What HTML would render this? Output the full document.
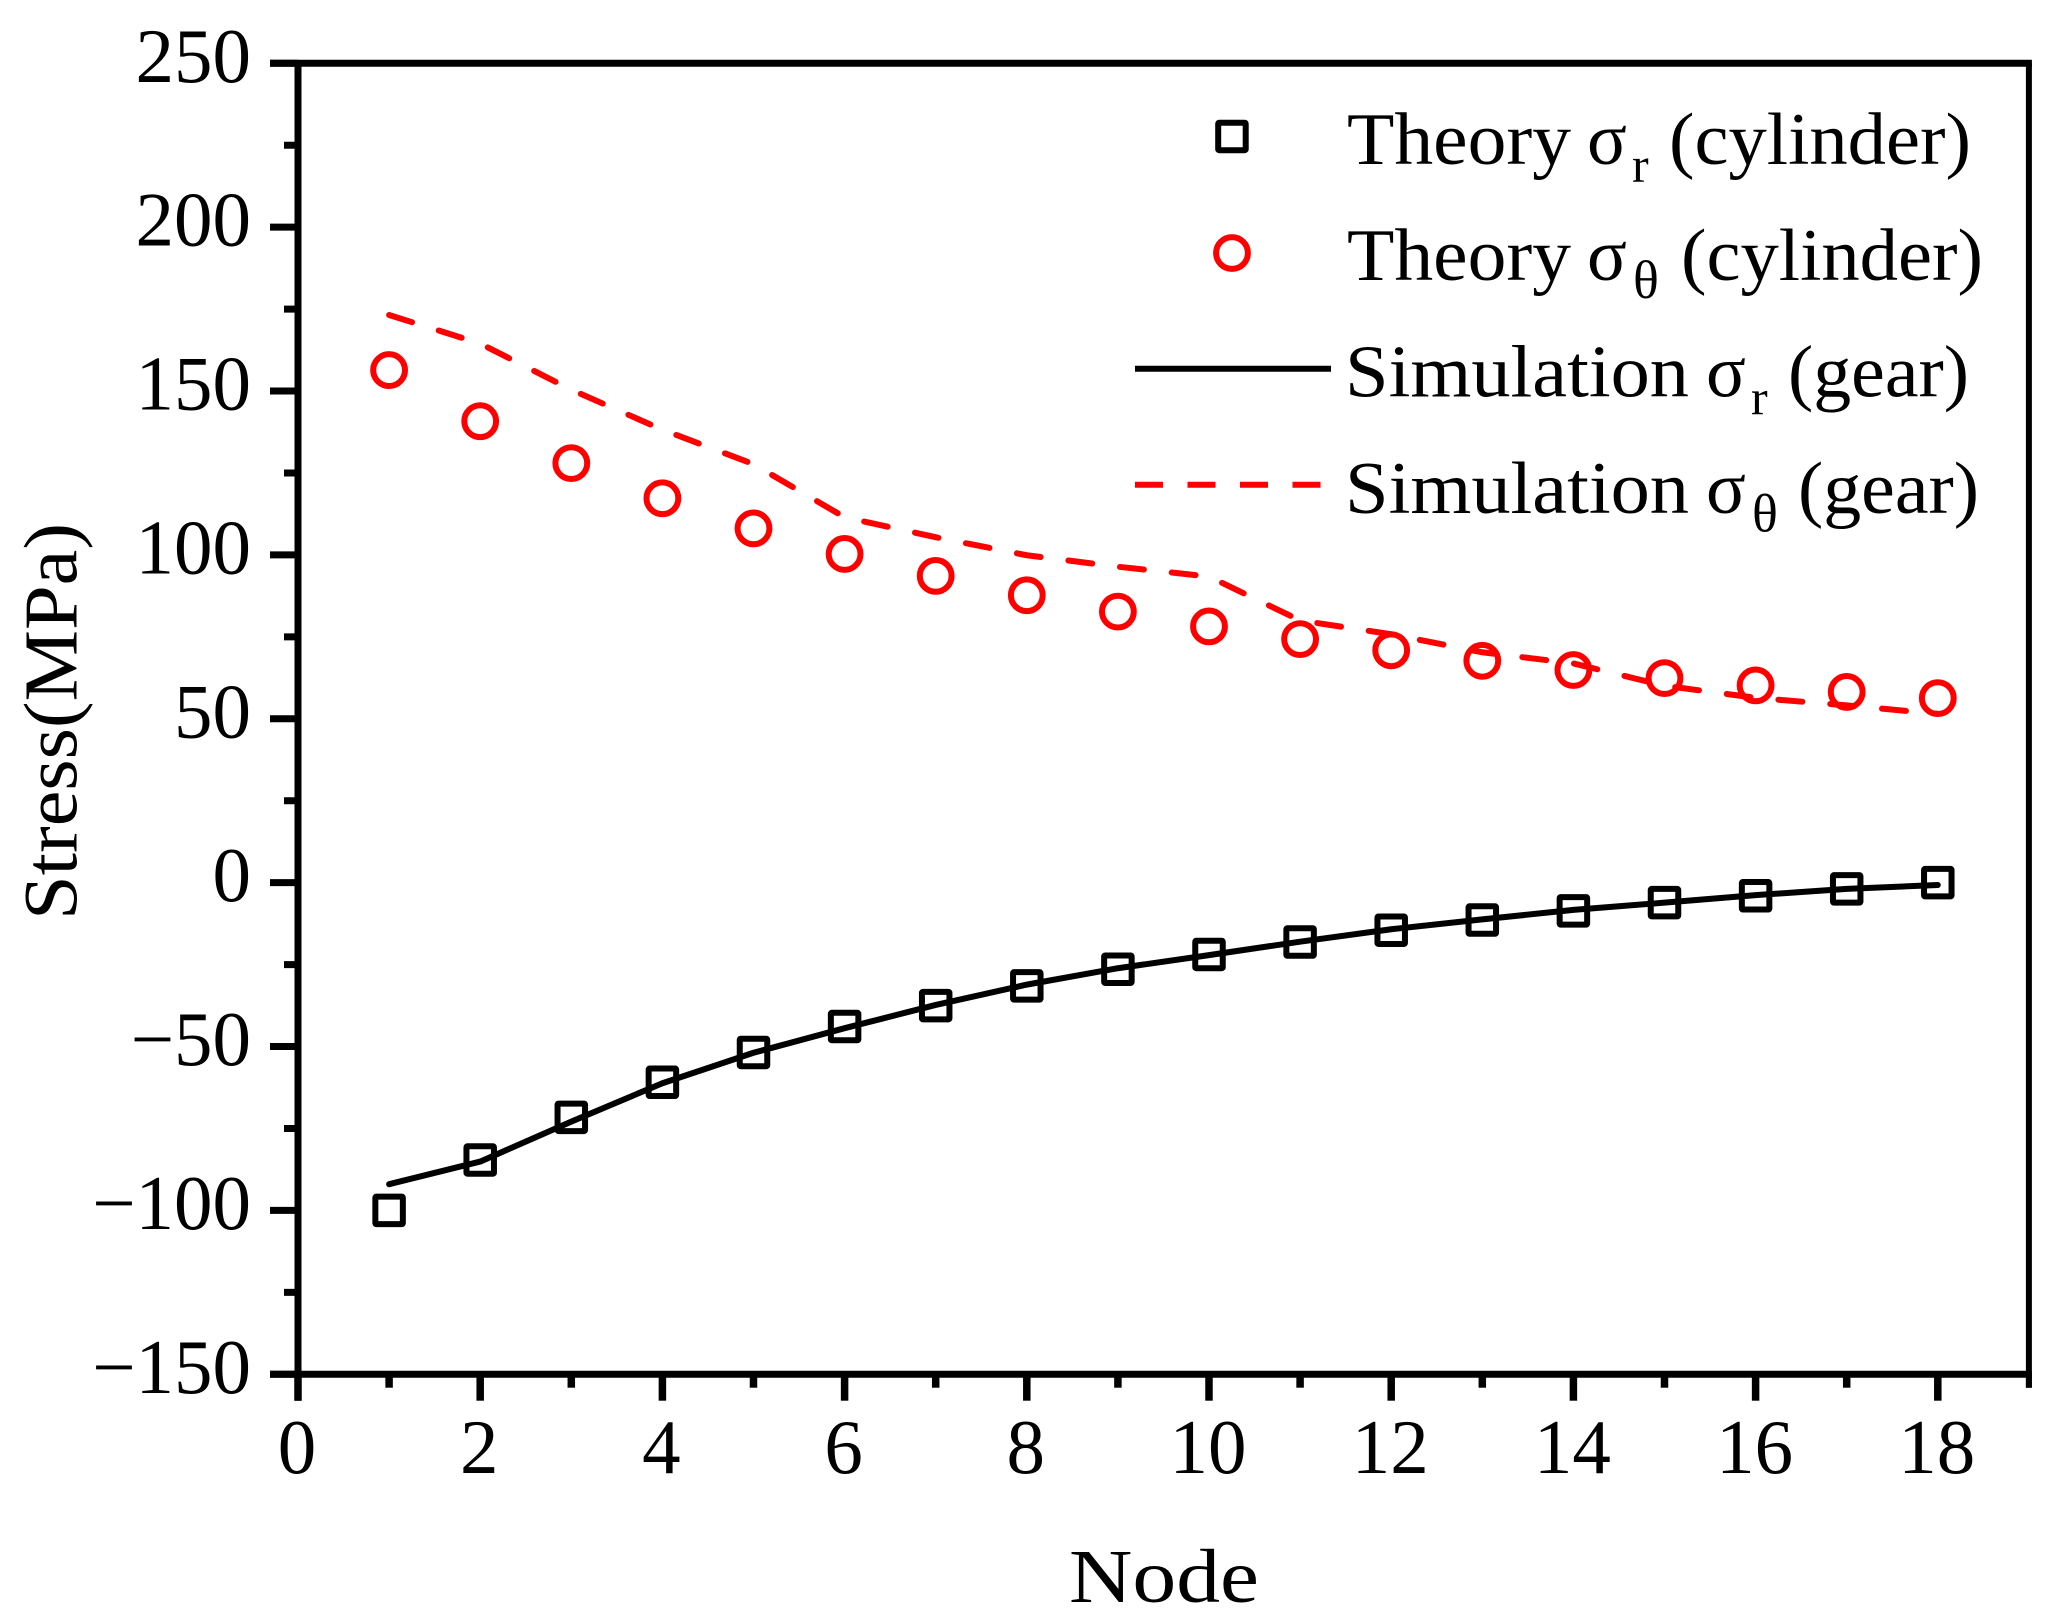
<!DOCTYPE html>
<html lang="en">
<head>
<meta charset="utf-8">
<title>Stress vs Node</title>
<style>
html,body{margin:0;padding:0;background:#fff;}
svg{display:block;}
text{font-family:"Liberation Serif","DejaVu Serif",serif;fill:#000;}
</style>
</head>
<body>
<svg id="chart" xmlns="http://www.w3.org/2000/svg" width="2057" height="1615" viewBox="0 0 2057 1615">
  <rect x="0" y="0" width="2057" height="1615" fill="#fff"/>
  <g id="axes"></g>
  <g id="series"></g>

  <text transform="translate(76.5,920) rotate(-90)" font-size="76" textLength="397" lengthAdjust="spacingAndGlyphs">Stress(MPa)</text>
  <text x="1069" y="1602" font-size="76" textLength="190" lengthAdjust="spacingAndGlyphs">Node</text>

  <g>
    <g>
      <rect x="1218.2" y="122.7" width="27.5" height="27.5" rx="1" fill="none" stroke="#000" stroke-width="6"/>
      <text y="164" font-size="74">
        <tspan x="1347" textLength="224" lengthAdjust="spacingAndGlyphs">Theory</tspan>
        <tspan x="1587">σ</tspan>
        <tspan x="1632" y="182" font-size="50">r</tspan>
        <tspan x="1669" y="164" textLength="302" lengthAdjust="spacingAndGlyphs">(cylinder)</tspan>
      </text>
    </g>
    <g>
      <circle cx="1232" cy="253" r="15.9" fill="none" stroke="#f00" stroke-width="6"/>
      <text y="280" font-size="74">
        <tspan x="1347" textLength="224" lengthAdjust="spacingAndGlyphs">Theory</tspan>
        <tspan x="1587">σ</tspan>
        <tspan x="1633" y="298" font-size="54">θ</tspan>
        <tspan x="1681" y="280" textLength="302" lengthAdjust="spacingAndGlyphs">(cylinder)</tspan>
      </text>
    </g>
    <g>
      <line x1="1135" y1="368.7" x2="1331" y2="368.7" stroke="#000" stroke-width="6"/>
      <text y="396.5" font-size="74">
        <tspan x="1345" textLength="344" lengthAdjust="spacingAndGlyphs">Simulation</tspan>
        <tspan x="1706">σ</tspan>
        <tspan x="1751" y="414.5" font-size="50">r</tspan>
        <tspan x="1788" y="396.5" textLength="181" lengthAdjust="spacingAndGlyphs">(gear)</tspan>
      </text>
    </g>
    <g>
      <line x1="1135" y1="484.7" x2="1321" y2="484.7" stroke="#f00" stroke-width="6" stroke-dasharray="28 24.5"/>
      <text y="513" font-size="74">
        <tspan x="1345" textLength="344" lengthAdjust="spacingAndGlyphs">Simulation</tspan>
        <tspan x="1706">σ</tspan>
        <tspan x="1752" y="531.5" font-size="54">θ</tspan>
        <tspan x="1798" y="513" textLength="181" lengthAdjust="spacingAndGlyphs">(gear)</tspan>
      </text>
    </g>
  </g>
</svg>
<script>
const nodes = [1,2,3,4,5,6,7,8,9,10,11,12,13,14,15,16,17,18];
const theorySigmaR = [-100,-84.6,-71.6,-60.9,-51.8,-43.9,-37.5,-31.5,-26.4,-21.9,-18.1,-14.5,-11.4,-8.6,-6.1,-4,-1.9,0];
const theorySigmaTheta = [156.4,140.8,128,117.3,108.1,100.3,93.6,87.7,82.7,78.2,74.3,70.9,67.7,64.9,62.4,60.2,58.2,56.3];
const simSigmaR = [-92,-85.1,-72.9,-61.2,-51.9,-44.4,-37.3,-31.1,-26.1,-22.1,-18,-14.2,-11.2,-8.3,-6.1,-3.8,-1.9,-0.7];
const simSigmaTheta = [173.2,164.5,150.4,138.2,127.7,111.5,105.4,99.9,96.4,93.4,80,75.8,70.3,66.9,60.1,56.4,54.1,51.5];
const xMajorTicks = [0,2,4,6,8,10,12,14,16,18];
const xMinorTicks = [1,3,5,7,9,11,13,15,17,19];
const yMajorTicks = [250,200,150,100,50,0,-50,-100,-150];
const yMinorTicks = [225,175,125,75,25,-25,-75,-125];

const NS = 'http://www.w3.org/2000/svg';
const xScale = function (n) { return 298 + 91.1 * n; };
const yScale = function (v) { return 63.3 + (250 - v) * 3.2775; };
const axes = document.getElementById('axes');
const seriesGroup = document.getElementById('series');
const INK = '#000';

function segment(parent, x1, y1, x2, y2, width) {
  const el = document.createElementNS(NS, 'line');
  el.setAttribute('x1', x1);
  el.setAttribute('y1', y1);
  el.setAttribute('x2', x2);
  el.setAttribute('y2', y2);
  el.setAttribute('stroke', INK);
  el.setAttribute('stroke-width', width);
  parent.appendChild(el);
  return el;
}

function label(parent, x, y, anchor, str) {
  const el = document.createElementNS(NS, 'text');
  el.setAttribute('x', x);
  el.setAttribute('y', y);
  el.setAttribute('text-anchor', anchor);
  el.setAttribute('font-size', '77');
  el.textContent = str;
  parent.appendChild(el);
  return el;
}

const yBase = yScale(-150);
const yTop = yScale(250);
const xLeft = xScale(0);
const xRight = xScale(19);

let frame = segment(axes, xLeft, yTop, xLeft, 1400.7, 7);


frame = segment(axes, xRight, yTop, xRight, 1387.7, 6);


frame = segment(axes, 270, yTop, xRight + 3, yTop, 7);


frame = segment(axes, 270, yBase, xRight + 3, yBase, 7);



xMajorTicks.forEach(function (t) {
  const tick = segment(axes, xScale(t), yBase, xScale(t), 1400.7, 7.5);
  
  
  const txt = label(axes, xScale(t) - 1, 1473, 'middle', String(t));
  
  
});
xMinorTicks.forEach(function (t) {
  const tick = segment(axes, xScale(t), yBase, xScale(t), 1387.7, t === 19 ? 6 : 7.5);
  
  
});
yMajorTicks.forEach(function (t) {
  const tick = segment(axes, 270, yScale(t), xLeft, yScale(t), 7);
  
  
  const txt = label(axes, 251, yScale(t) + 18.5, 'end', String(t).replace('-', '\u2212'));
  
  
});
yMinorTicks.forEach(function (t) {
  const tick = segment(axes, 284, yScale(t), xLeft, yScale(t), 7);
  
  
});

function linePath(values) {
  return values.map(function (v, i) {
    return xScale(nodes[i]).toFixed(2) + ',' + yScale(v).toFixed(2);
  }).join(' ');
}

const simR = document.createElementNS(NS, 'polyline');


simR.setAttribute('points', linePath(simSigmaR));
simR.setAttribute('fill', 'none');
simR.setAttribute('stroke', '#000');
simR.setAttribute('stroke-width', '6');
simR.setAttribute('stroke-linecap', 'round');
simR.setAttribute('stroke-linejoin', 'round');
seriesGroup.appendChild(simR);

const simTheta = document.createElementNS(NS, 'polyline');


simTheta.setAttribute('points', linePath(simSigmaTheta));
simTheta.setAttribute('fill', 'none');
simTheta.setAttribute('stroke', '#f00');
simTheta.setAttribute('stroke-width', '6');
simTheta.setAttribute('stroke-dasharray', '24 28');
simTheta.setAttribute('stroke-linecap', 'round');
simTheta.setAttribute('stroke-linejoin', 'round');
seriesGroup.appendChild(simTheta);

theorySigmaR.forEach(function (v, i) {
  const sq = document.createElementNS(NS, 'rect');
  
  
  sq.setAttribute('x', xScale(nodes[i]) - 13.75);
  sq.setAttribute('y', yScale(v) - 13.75);
  sq.setAttribute('width', 27.5);
  sq.setAttribute('height', 27.5);
  sq.setAttribute('rx', 1);
  sq.setAttribute('fill', 'none');
  sq.setAttribute('stroke', '#000');
  sq.setAttribute('stroke-width', 6);
  seriesGroup.appendChild(sq);
});

theorySigmaTheta.forEach(function (v, i) {
  const c = document.createElementNS(NS, 'circle');
  
  
  c.setAttribute('cx', xScale(nodes[i]));
  c.setAttribute('cy', yScale(v));
  c.setAttribute('r', 15.9);
  c.setAttribute('fill', 'none');
  c.setAttribute('stroke', '#f00');
  c.setAttribute('stroke-width', 6);
  seriesGroup.appendChild(c);
});
</script>
</body>
</html>
